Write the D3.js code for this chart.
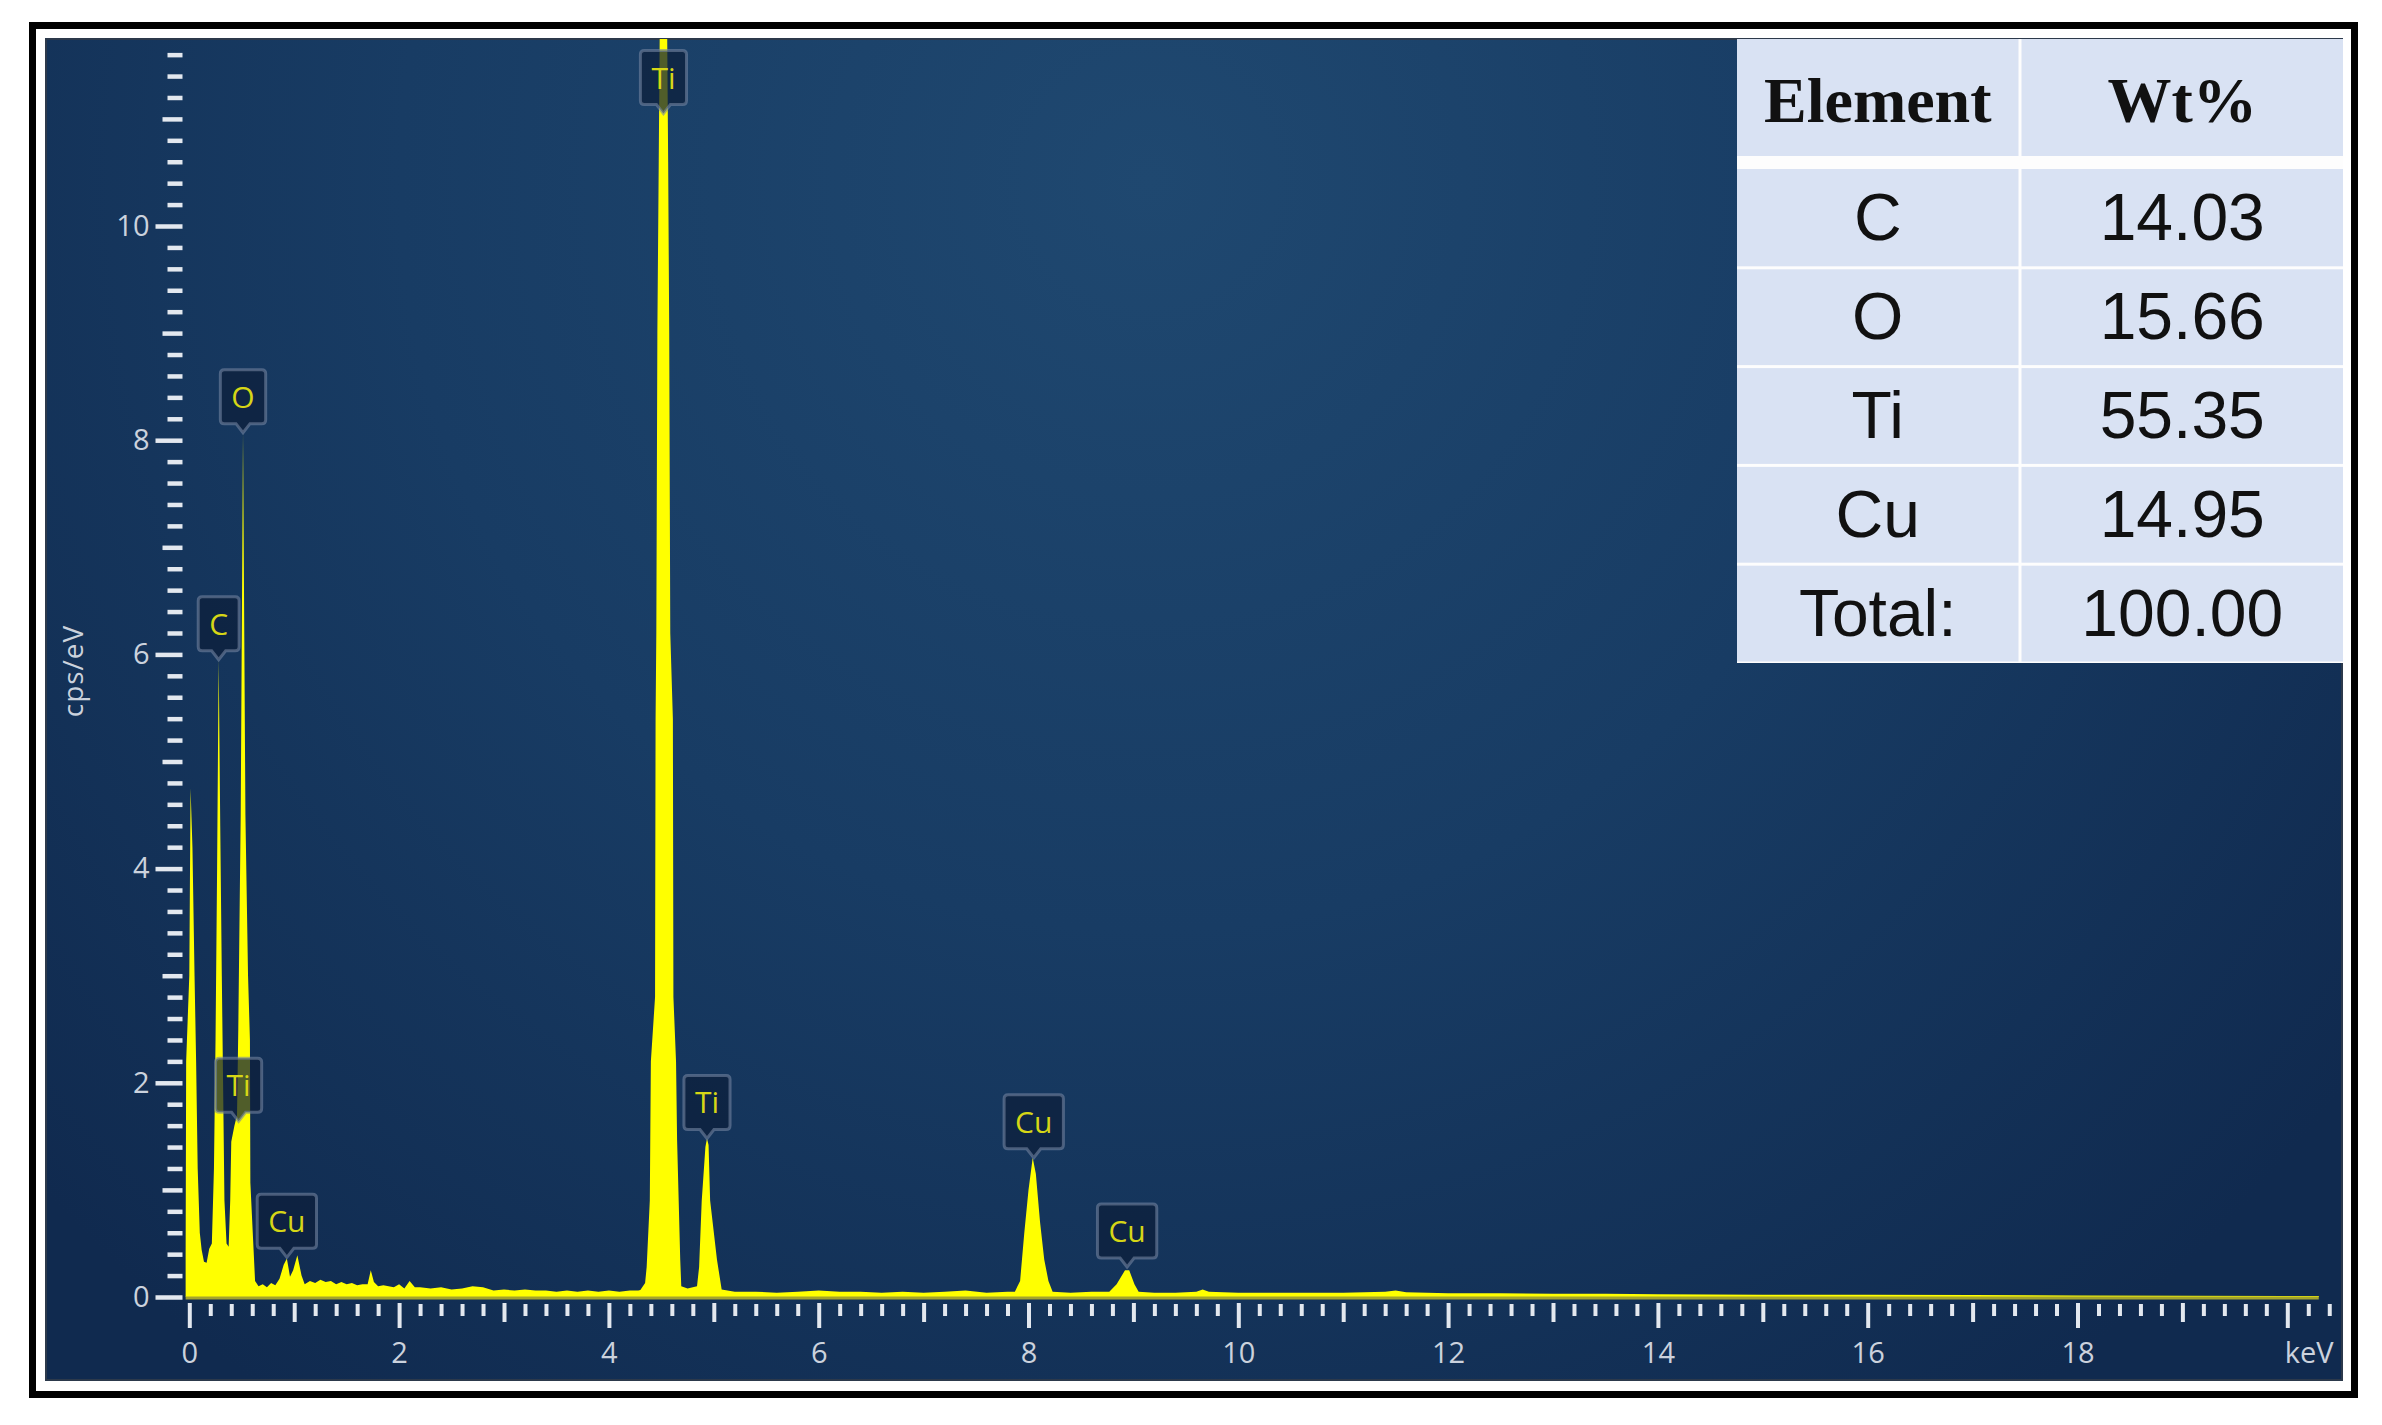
<!DOCTYPE html>
<html><head><meta charset="utf-8">
<script src="https://cdn.jsdelivr.net/npm/d3@7"></script>
<style>html,body{margin:0;padding:0;background:#fff;} svg{display:block}</style>
</head><body>
<svg id="chart" width="2382" height="1425"></svg>
<script>
// ---------------- DATA ----------------
// EDS spectrum: energy (keV) and intensity (cps/eV)
const spectrumEnergy = [
 -0.035,-0.03,0.00,0.012,0.03,0.05,0.065,0.08,0.10,0.118,0.14,0.165,0.19,
 0.215,0.235,0.25,0.265,0.28,0.295,0.31,0.322,0.335,0.355,0.375,0.39,
 0.40,0.43,0.455,0.467,0.49,0.512,0.535,0.56,0.578,0.582,0.605,0.627,
 0.66,0.70,0.74,0.78,0.82,0.86,0.90,0.93,0.96,0.99,1.03,1.07,1.10,
 1.15,1.20,1.25,1.30,1.35,1.40,1.45,1.50,1.55,1.60,1.65,1.70,1.73,1.76,
 1.80,1.85,1.90,1.95,2.00,2.05,2.10,2.15,2.20,2.30,2.40,2.50,2.60,2.70,
 2.80,2.90,3.00,3.10,3.20,3.30,3.40,3.50,3.60,3.70,3.80,3.90,4.00,4.10,
 4.20,4.28,
 4.30,4.345,4.36,4.39,4.40,4.44,4.445,4.452,4.462,4.475,4.49,4.52,4.55,4.565,4.575,4.585,4.61,
 4.615,4.64,4.65,4.68,4.69,4.75,
 4.84,4.86,4.885,4.92,4.935,4.95,4.965,5.03,5.075,
 5.20,5.40,5.60,5.80,6.00,6.20,6.40,6.60,6.80,7.00,7.20,7.40,7.60,7.80,
 7.87,7.92,7.96,8.00,8.04,8.07,8.11,8.15,8.19,8.23,8.40,8.60,
 8.77,8.84,8.92,8.96,9.01,9.05,9.20,9.40,9.60,9.66,9.72,
 10.0,10.5,11.0,11.4,11.5,11.6,12.0,12.5,13.0,13.5,14.0,15.0,16.0,17.0,
 18.0,19.0,20.0,20.3
];
const spectrumCps = [
 0.40,2.20,3.00,4.75,4.20,3.00,2.20,1.20,0.60,0.44,0.33,0.32,0.45,
 0.50,1.20,2.40,4.00,5.95,4.40,3.00,2.00,0.90,0.50,0.47,0.90,
 1.45,1.60,1.70,2.50,4.50,8.07,4.50,3.00,2.40,1.07,0.60,0.15,
 0.10,0.12,0.09,0.13,0.11,0.17,0.30,0.36,0.19,0.25,0.39,0.20,0.12,
 0.15,0.13,0.16,0.14,0.15,0.12,0.14,0.12,0.13,0.11,0.12,0.12,0.25,0.14,
 0.10,0.11,0.10,0.09,0.12,0.08,0.15,0.09,0.09,0.08,0.09,0.07,0.08,0.10,
 0.09,0.06,0.07,0.06,0.07,0.06,0.06,0.05,0.06,0.05,0.06,0.05,0.06,0.05,
 0.06,0.06,
 0.065,0.13,0.28,0.90,2.20,2.80,5.40,6.20,9.00,10.6,12.5,14.0,12.5,10.6,9.00,6.20,5.40,
 2.80,2.20,1.47,0.35,0.10,0.08,
 0.10,0.28,0.90,1.40,1.48,1.42,0.90,0.35,0.07,
 0.05,0.05,0.04,0.05,0.06,0.05,0.05,0.04,0.05,0.04,0.05,0.06,0.04,0.05,
 0.05,0.15,0.60,1.00,1.30,1.15,0.70,0.35,0.15,0.05,0.04,0.05,
 0.05,0.12,0.25,0.25,0.12,0.05,0.04,0.04,0.05,0.07,0.05,
 0.04,0.04,0.04,0.05,0.06,0.045,0.035,0.035,0.03,0.03,0.025,0.02,0.02,0.018,
 0.015,0.012,0.01,0.01
];
// Peak markers: element, energy (keV), height of marker tip (cps/eV)
const peakElements = ["C","O","Ti","Cu","Ti","Ti","Cu","Cu"];
const peakEnergy   = [0.280, 0.512, 0.47, 0.93, 4.52, 4.935, 8.05, 8.94];
const peakTipCps   = [5.95, 8.07, 1.64, 0.37, 11.05, 1.48, 1.30, 0.28];
// Axis tick labels
const xMajorTicks = [0,2,4,6,8,10,12,14,16,18,20];
const xMajorLabels = ["0","2","4","6","8","10","12","14","16","18","keV"];
const yMajorTicks = [0,2,4,6,8,10];
const yMajorLabels = ["0","2","4","6","8","10"];
const yTitle = "cps/eV";
// Composition table
const tableHeaders = ["Element","Wt%"];
const tableElements = ["C","O","Ti","Cu","Total:"];
const tableWt = ["14.03","15.66","55.35","14.95","100.00"];

// ---------------- LAYOUT ----------------
const svg = d3.select("#chart");
const panel = {x:46, y:39, w:2296, h:1341};
const x = d3.scaleLinear().domain([0,20]).range([189.3, 189.3 + 20*104.9]);
const y = d3.scaleLinear().domain([0,10]).range([1297, 1297 - 10*107.1]);
const labelColor = "#cbd2dd";
const tickColor = "#e3e8ef";

// outer frame
svg.append("rect").attr("width",2382).attr("height",1425).attr("fill","#fff");
svg.append("rect").attr("x",32.5).attr("y",25.5).attr("width",2322).attr("height",1369)
  .attr("fill","none").attr("stroke","#000").attr("stroke-width",7);

// panel gradient
const defs = svg.append("defs");
const grad = defs.append("radialGradient").attr("id","bg")
  .attr("gradientUnits","userSpaceOnUse").attr("cx",1150).attr("cy",180).attr("r",1500);
grad.append("stop").attr("offset","0").attr("stop-color","#1f4870");
grad.append("stop").attr("offset","0.5").attr("stop-color","#183c64");
grad.append("stop").attr("offset","1").attr("stop-color","#102a4f");
defs.append("clipPath").attr("id","clip").append("rect")
  .attr("x",panel.x).attr("y",panel.y).attr("width",panel.w).attr("height",panel.h);

svg.append("rect").attr("x",panel.x).attr("y",panel.y).attr("width",panel.w).attr("height",panel.h)
  .attr("fill","url(#bg)").attr("stroke","#2c394b").attr("stroke-width",2);

// ---------------- AXES ----------------
function styleAxis(g, w){
  g.select(".domain").remove();
  g.selectAll(".tick line").attr("stroke",tickColor).attr("stroke-width",w);
  g.selectAll(".tick text").attr("fill",labelColor)
    .style("font-family","'Open Sans', 'Noto Sans', sans-serif").style("font-size","29px");
}
const yAll = d3.range(0,59).map(i => i/5);
const yMinor = yAll.filter(v => Math.abs(v - Math.round(v)) > 1e-6);
const yMid = yAll.filter(v => Math.abs(v - Math.round(v)) < 1e-6 && Math.round(v) % 2 === 1);
const yAxisG = svg.append("g");
yAxisG.append("g").attr("transform","translate(182.5,0)")
  .call(d3.axisLeft(y).tickValues(yMinor).tickSize(15).tickFormat(""))
  .call(g => styleAxis(g,4.5));
yAxisG.append("g").attr("transform","translate(182.5,0)")
  .call(d3.axisLeft(y).tickValues(yMid).tickSize(20).tickFormat(""))
  .call(g => styleAxis(g,4.5));
yAxisG.append("g").attr("transform","translate(182.5,0)")
  .call(d3.axisLeft(y).tickValues(yMajorTicks).tickSize(27).tickPadding(6)
        .tickFormat((d,i) => yMajorLabels[i]))
  .call(g => styleAxis(g,4.5));

const xAll = d3.range(0,103).map(i => i/5);
const xMinor = xAll.filter(v => Math.abs(v - Math.round(v)) > 1e-6);
const xMid = xAll.filter(v => Math.abs(v - Math.round(v)) < 1e-6 && Math.round(v) % 2 === 1);
const xAxisG = svg.append("g");
xAxisG.append("g").attr("transform","translate(0,1304)")
  .call(d3.axisBottom(x).tickValues(xMinor).tickSize(12).tickFormat(""))
  .call(g => styleAxis(g,4));
xAxisG.append("g").attr("transform","translate(0,1303)")
  .call(d3.axisBottom(x).tickValues(xMid).tickSize(19).tickFormat(""))
  .call(g => styleAxis(g,4));
const xMajG = xAxisG.append("g").attr("transform","translate(0,1303)")
  .call(d3.axisBottom(x).tickValues(xMajorTicks).tickSize(25).tickPadding(14)
        .tickFormat((d,i) => xMajorLabels[i]))
  .call(g => styleAxis(g,4));
xMajG.selectAll(".tick text").filter(d => d === 20)
  .attr("text-anchor","start").attr("dx",-3);

// y title
svg.append("text").attr("transform","translate(83,671) rotate(-90)")
  .attr("text-anchor","middle").attr("fill",labelColor)
  .style("font-family","'Open Sans', 'Noto Sans', sans-serif").style("font-size","28px")
  .style("letter-spacing","1px")
  .text(yTitle);

// ---------------- SPECTRUM ----------------
const spec = spectrumEnergy.map((e,i) => ({e, v: spectrumCps[i]}));
const plot = svg.append("g").attr("clip-path","url(#clip)");
plot.append("path").datum(spec)
  .attr("fill","#ffff00")
  .attr("d", d3.area().x(d => x(d.e)).y0(y(0)).y1(d => y(d.v)));
plot.append("line")
  .attr("x1", x(spectrumEnergy[0])).attr("x2", x(spectrumEnergy[spectrumEnergy.length-1]))
  .attr("y1", y(0)+1).attr("y2", y(0)+1)
  .attr("stroke","#a4a42c").attr("stroke-width",3);

// ---------------- PEAK MARKERS ----------------
const markers = svg.append("g");
peakElements.forEach((el,i) => {
  const g = markers.append("g")
    .attr("transform",`translate(${x(peakEnergy[i])},${y(peakTipCps[i])})`);
  const path = g.append("path");
  const t = g.append("text").attr("text-anchor","middle").attr("y",-25)
    .attr("fill","#d6d616")
    .style("font-family","'Open Sans', 'Noto Sans', sans-serif").style("font-size","30px")
    .text(el);
  const tw = t.node().getComputedTextLength();
  const w = tw + 22, top = -63, bot = -9, l = -w/2, r = w/2, c = 4;
  path.attr("d",
    `M${l+c},${top} H${r-c} Q${r},${top} ${r},${top+c} V${bot-c} Q${r},${bot} ${r-c},${bot}` +
    ` H7 L0,0 L-7,${bot} H${l+c} Q${l},${bot} ${l},${bot-c} V${top+c} Q${l},${top} ${l+c},${top} Z`)
    .attr("fill","rgba(12,30,58,0.72)")
    .attr("stroke","rgba(115,132,160,0.6)").attr("stroke-width",3);
  t.raise();
});

// ---------------- TABLE ----------------
const tbl = svg.append("g");
const tX0 = 1737, tX1 = 2343, tDiv = 2020;
const headTop = 39, headBot = 156, bodyTop = 169, bodyBot = 663;
const cellFill = "#d9e2f3";
tbl.append("rect").attr("x",tX0).attr("y",headTop).attr("width",tX1-tX0)
  .attr("height",bodyBot-headTop).attr("fill","#fdfdfd");
const cols = [[tX0, tDiv-1.5],[tDiv+1.5, tX1]];
const rowBand = d3.scaleBand().domain(tableElements).range([bodyTop, bodyBot]);
cols.forEach((c,ci) => {
  tbl.append("rect").attr("x",c[0]).attr("y",headTop).attr("width",c[1]-c[0])
    .attr("height",headBot-headTop).attr("fill",cellFill);
  tbl.append("text").attr("x",(c[0]+c[1])/2).attr("y",122).attr("text-anchor","middle")
    .attr("fill","#111").style("font-family","'Liberation Serif','Times New Roman',serif")
    .style("font-weight","bold").style("font-size","64px").text(tableHeaders[ci]);
  tableElements.forEach((el,ri) => {
    const y0 = rowBand(el);
    tbl.append("rect").attr("x",c[0]).attr("y",y0 + (ri===0?0:1.5))
      .attr("width",c[1]-c[0]).attr("height",rowBand.bandwidth() - (ri===0?1.5:3))
      .attr("fill",cellFill);
    tbl.append("text").attr("x",(c[0]+c[1])/2).attr("y",y0 + rowBand.bandwidth()/2 + 22)
      .attr("text-anchor","middle").attr("fill","#111")
      .style("font-family","'Liberation Sans', Arial, sans-serif").style("font-size","66px")
      .text(ci===0 ? el : tableWt[ri]);
  });
});
</script>
</body></html>
